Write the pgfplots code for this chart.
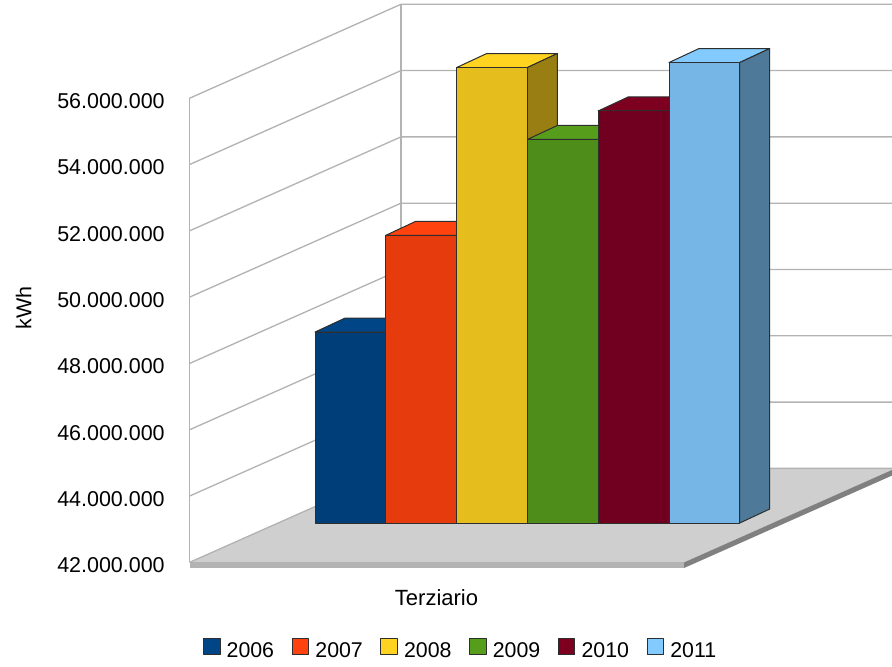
\documentclass[border=0pt]{standalone}
\usepackage{fontspec}
\setmainfont{Liberation Sans}
\usepackage{pgfplots}
\pgfplotsset{compat=1.18}
\definecolor{f06}{HTML}{003E79}\definecolor{t06}{HTML}{004586}\definecolor{s06}{HTML}{002A50}
\definecolor{f07}{HTML}{E63B0D}\definecolor{t07}{HTML}{FF420E}\definecolor{s07}{HTML}{992808}
\definecolor{f08}{HTML}{E5BE1D}\definecolor{t08}{HTML}{FFD320}\definecolor{s08}{HTML}{997F13}
\definecolor{f09}{HTML}{4E8D19}\definecolor{t09}{HTML}{579D1C}\definecolor{s09}{HTML}{345E11}
\definecolor{f10}{HTML}{710020}\definecolor{t10}{HTML}{7E0021}\definecolor{s10}{HTML}{4C0014}
\definecolor{f11}{HTML}{76B6E6}\definecolor{t11}{HTML}{83CAFF}\definecolor{s11}{HTML}{4F7999}
\definecolor{wallline}{HTML}{B3B3B3}
\definecolor{floorc}{HTML}{CFCFCF}
\definecolor{edgec}{HTML}{2E2E2E}
\newcommand\lab{\fontsize{16.1}{18}\selectfont}
\def\offs{1.188}
\newcommand\threedbar[7]{%
  \pgfmathsetmacro\yb{42+\offs}%
  \pgfmathsetmacro\yt{#3+\offs}%
  \pgfmathsetmacro\ytb{\yt+0.4223}%
  \pgfmathsetmacro\ybb{\yb+0.4223}%
  \pgfmathsetmacro\xa{#1+30}%
  \pgfmathsetmacro\xb{#2+30}%
  \edef\temp{\noexpand\addplot[fill=#5,draw=edgec,line width=0.75pt,line join=round] coordinates {(#1,\yt)(\xa,\ytb)(\xb,\ytb)(#2,\yt)} -- cycle;}\temp
  \addlegendentry{#7}
  \edef\temp{\noexpand\addplot[forget plot,fill=#6,draw=edgec,line width=0.75pt,line join=round] coordinates {(#2,\yb)(#2,\yt)(\xb,\ytb)(\xb,\ybb)} -- cycle;}\temp
  \edef\temp{\noexpand\addplot[forget plot,fill=#4,draw=edgec,line width=0.75pt,line join=round] coordinates {(#1,\yb)(#1,\yt)(#2,\yt)(#2,\yb)} -- cycle;}\temp
}
\begin{document}
\begin{tikzpicture}
\useasboundingbox (0,0) rectangle (669pt,500.25pt);
\begin{axis}[
  at={(142.125pt,0pt)},anchor=south west,
  scale only axis,width=526.875pt,height=500.25pt,
  xmin=189.5,xmax=892,ymin=38.845,ymax=58.965,
  clip=false,
  axis line style={draw=none},
  xtick=\empty,
  ytick={42,44,46,48,50,52,54,56},
  yticklabels={42.000.000,44.000.000,46.000.000,48.000.000,50.000.000,52.000.000,54.000.000,56.000.000},
  major tick length=0pt,
  yticklabel style={font=\lab,anchor=east,inner sep=0pt,xshift=-18.4pt,yshift=-2.2pt},
  legend columns=6,
  legend style={at={(axis cs:203,39.39)},anchor=west,draw=none,fill=none,inner sep=0pt,outer sep=0pt,
    font=\fontsize{16}{18}\selectfont,
    nodes={inner sep=0pt},
    /tikz/every odd column/.style={column sep=4.6pt},
    /tikz/every even column/.style={column sep=13.2pt}},
  legend image code/.code={\draw[#1,line width=0.75pt] (0pt,-2.7pt) rectangle (12.4pt,9.5pt);},
]
% floor
\addplot[forget plot,fill=floorc,draw=none] coordinates {(189.5,42)(401,44.836)(892,44.836)(892,44.79)(684,42)} -- cycle;
\addplot[forget plot,fill=wallline,draw=none] coordinates {(189.5,42)(684,42)(684,41.83)(189.5,41.83)} -- cycle;
\addplot[forget plot,fill=gray,draw=none] coordinates {(684,42)(892,44.79)(892,44.62)(684,41.83)} -- cycle;
% walls
\addplot[forget plot,wallline,line width=1pt] coordinates {(189.5,42)(189.5,56)};
\addplot[forget plot,wallline,line width=1pt] coordinates {(401,44.836)(401,58.836)};
\pgfplotsinvokeforeach{42,44,46,48,50,52,54,56}{
  \pgfmathsetmacro\yback{#1+2.836}
  \edef\temp{\noexpand\addplot[forget plot,wallline,line width=1pt] coordinates {(189.5,#1)(401,\yback)(892,\yback)};}\temp
}
% bars: left, right, value (million kWh), front, top, side, name
\threedbar{315}{385.9}{47.76}{f06}{t06}{s06}{2006}
\threedbar{385.9}{456.7}{50.68}{f07}{t07}{s07}{2007}
\threedbar{456.7}{527.4}{55.74}{f08}{t08}{s08}{2008}
\threedbar{527.4}{598.2}{53.57}{f09}{t09}{s09}{2009}
\threedbar{598.2}{669}{54.43}{f10}{t10}{s10}{2010}
\threedbar{669}{739.7}{55.89}{f11}{t11}{s11}{2011}
\node[font=\fontsize{16.5}{18}\selectfont,inner sep=0pt] at (axis cs:436.5,40.926) {Terziario};
\node[font=\lab,inner sep=0pt,rotate=90] at (axis cs:23.5,49.67) {kWh};
\end{axis}
\end{tikzpicture}
\end{document}
